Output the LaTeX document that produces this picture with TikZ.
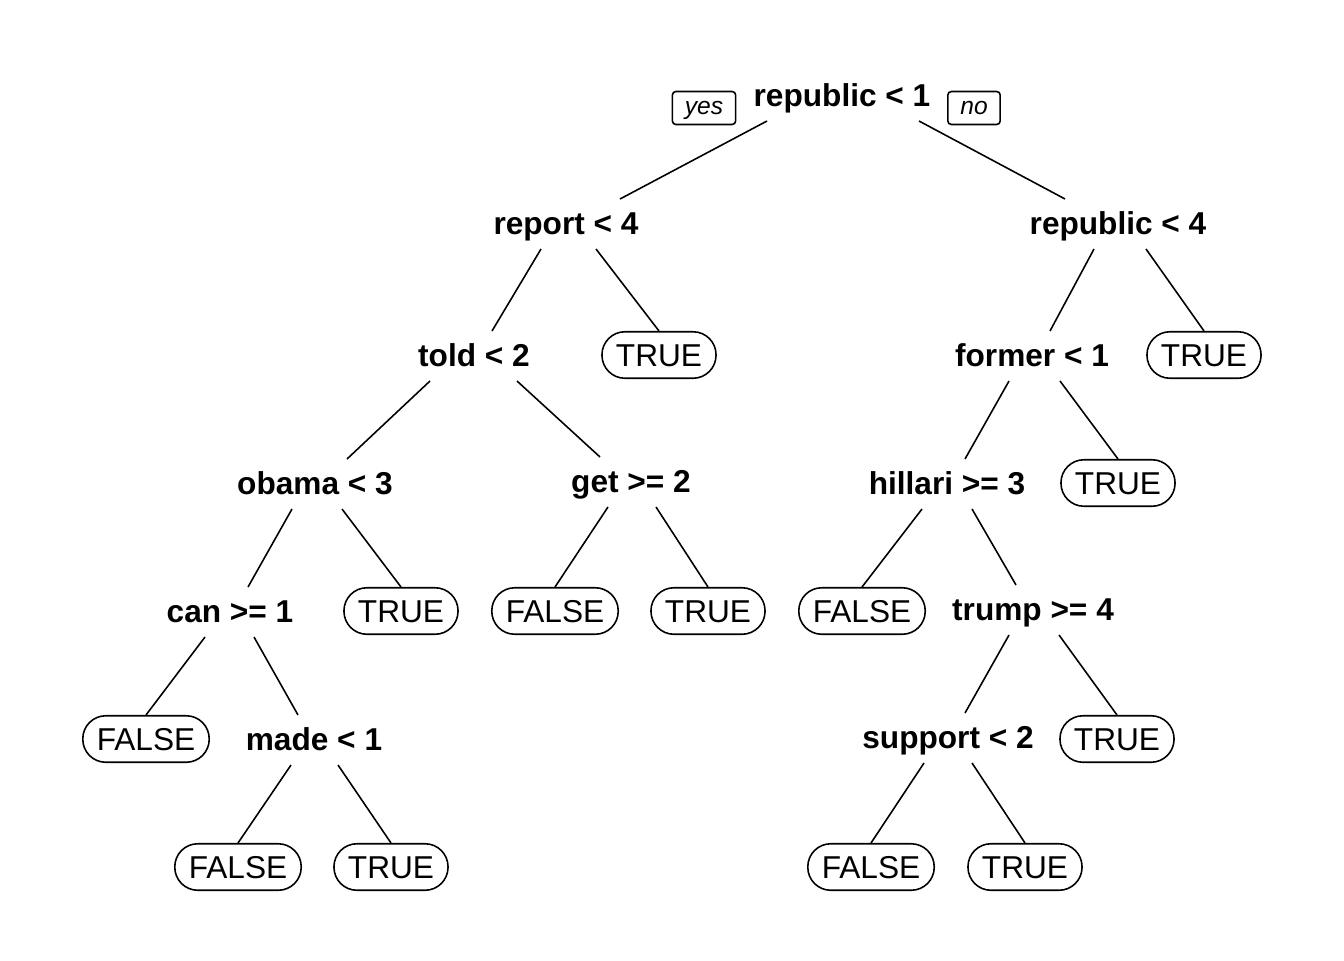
\documentclass[tikz,border=0pt]{standalone}
\usepackage{fontspec}
\setmainfont{Liberation Sans}
\usetikzlibrary{calc}

\begin{document}
\begin{tikzpicture}[x=0.02cm,y=-0.02cm,line width=0.9pt,
  split/.style={inner sep=0pt,text height=13pt,text depth=0pt,font=\fontsize{18}{21}\selectfont\bfseries},
  leaf/.style={draw,rounded corners=0.46cm,minimum height=0.93cm,inner xsep=0.28cm,inner ysep=0pt,text height=13pt,text depth=0pt,font=\fontsize{18}{21}\selectfont},
  tag/.style={draw,rounded corners=2pt,minimum height=0.66cm,inner xsep=0.25cm,inner ysep=0pt,text height=10pt,text depth=3pt,font=\fontsize{14}{16}\selectfont\itshape}]
\useasboundingbox (0,0) rectangle (1344,960);

% split nodes
\foreach \n/\x/\y/\t in {root/842/95/{republic < 1},report/566/223/{report < 4},repfour/1118/223/{republic < 4},
  told/474/355/{told < 2},former/1032/355/{former < 1},obama/315/483/{obama < 3},get/631/481/{get >= 2},
  hillari/947/483/{hillari >= 3},can/230/611/{can >= 1},trump/1033/609/{trump >= 4},
  made/314/739/{made < 1},support/948/737/{support < 2}}
{
\node[split] (\n) at (\x,\y) {\t};
}

% leaves
\foreach \n/\x/\y/\t in {lf1/659/355/TRUE,lf2/1204/355/TRUE,lf3/1118/483/TRUE,lf4/401/611/TRUE,
  lf5/555/611/FALSE,lf6/708/611/TRUE,lf7/862/611/FALSE,lf8/146/739/FALSE,lf9/1117/739/TRUE,
  lf10/238/867/FALSE,lf11/391/867/TRUE,lf12/871/867/FALSE,lf13/1025/867/TRUE}
{
\node[leaf] (\n) at (\x,\y) {\t};
}

\node[tag] (yes) at (704,108) {yes};
\node[tag] (no) at (974,108) {no};

% branches
\foreach \p/\a/\c/\b in {root/-75/report/54,root/77/repfour/-53,report/-25/told/18,report/30/lf1/0,
  repfour/-24/former/18,repfour/28/lf2/0,told/-44/obama/32,told/43/get/-31,
  former/-23/hillari/18,former/28/lf3/0,obama/-23/can/18,obama/27/lf4/0,
  get/-23/lf5/0,get/25/lf6/0,hillari/-25/lf7/0,hillari/25/trump/-17,
  can/-25/lf8/0,can/24/made/-16,trump/-24/support/17,trump/26/lf9/0,
  made/-23/lf10/0,made/24/lf11/0,support/-24/lf12/0,support/24/lf13/0}
{
\draw ($(\p)+(\a,26)$) -- ($(\c)+(\b,-24)$);
}
\end{tikzpicture}
\end{document}
